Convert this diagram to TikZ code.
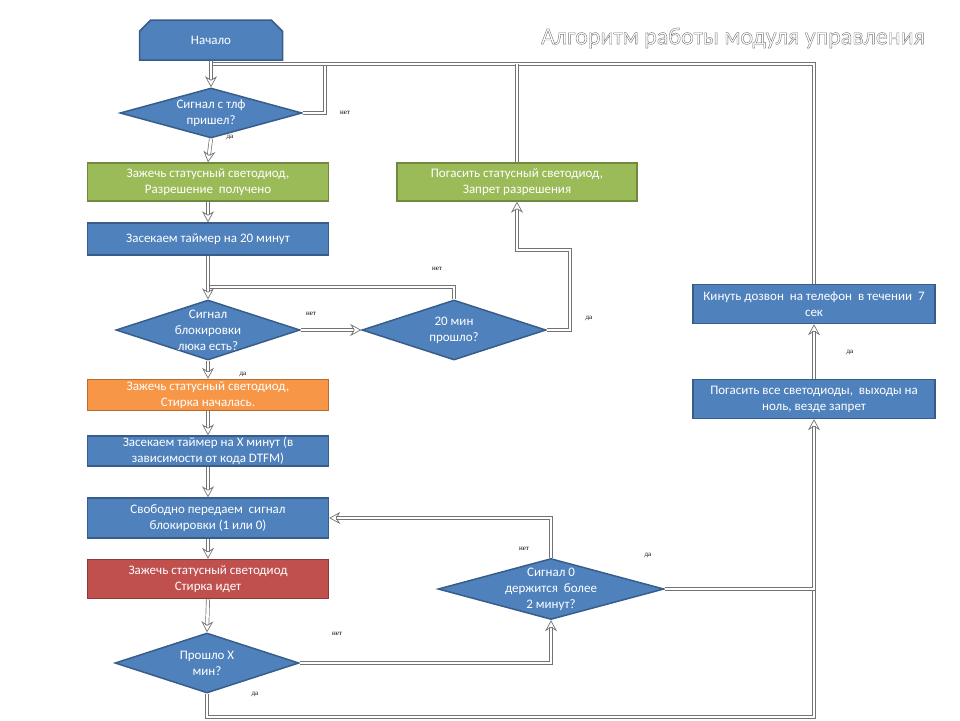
\documentclass[tikz,border=0pt]{standalone}
\usepackage{fontspec}
\setmainfont{Carlito}
\newfontfamily\lblfont{Liberation Serif}
\usetikzlibrary{shapes.geometric,shapes.misc,arrows.meta}
\definecolor{bfill}{HTML}{4F81BD}
\definecolor{bline}{HTML}{385D8A}
\definecolor{gfill}{HTML}{9BBB59}
\definecolor{gline}{HTML}{71893F}
\definecolor{ofill}{HTML}{F79646}
\definecolor{oline}{HTML}{B66D31}
\definecolor{rfill}{HTML}{C0504D}
\definecolor{rline}{HTML}{8C3836}
\begin{document}
\begin{tikzpicture}[x=1pt,y=-1pt,
  box/.style={rectangle, line width=1.5pt, text=white, font=\fontsize{13}{16}\selectfont, align=center, inner sep=0pt, minimum width=241pt},
  bluebox/.style={box, fill=bfill, draw=bline},
  greenbox/.style={box, fill=gfill, draw=gline},
  orangebox/.style={box, fill=ofill, draw=oline},
  redbox/.style={box, fill=rfill, draw=rline},
  dia/.style={diamond, fill=bfill, draw=bline, line width=1.5pt, inner sep=0pt},
  diatext/.style={text=white, font=\fontsize{13}{16}\selectfont, align=center, inner sep=0pt},
  startbox/.style={chamfered rectangle, chamfered rectangle corners={north west,north east}, chamfered rectangle xsep=7pt, chamfered rectangle ysep=7pt, fill=bfill, draw=bline, line width=1.5pt, text=white, font=\fontsize{13}{16}\selectfont, inner sep=0pt, minimum width=143pt, minimum height=40pt},
  conn/.style={draw=black!55, line width=0.7pt, double=white, double distance=2.6pt},
  arr/.style={conn, -{Stealth[open,length=11pt,width=12pt]}},
  lbl/.style={font=\lblfont\fontsize{7}{8}\selectfont, text=black, inner sep=0pt}
]
\useasboundingbox (0,0) rectangle (960,720);

% nodes
\node[startbox] (start) at (211,40) {Начало};
\node[dia, minimum width=182pt, minimum height=50pt] (d1) at (211,113) {};
\node[diatext] at (d1) {Сигнал с тлф\\пришел?};
\node[greenbox, minimum height=38pt] (g1) at (208,182) {Зажечь статусный светодиод,\\Разрешение \ получено};
\node[bluebox, minimum height=32pt] (t20) at (208,239) {Засекаем таймер на 20 минут};
\node[dia, minimum width=184pt, minimum height=60pt] (d2) at (208,330) {};
\node[diatext] at (d2) {Сигнал\\блокировки\\люка есть?};
\node[dia, minimum width=184pt, minimum height=60pt] (d3) at (454,330) {};
\node[diatext] at (d3) {20 мин\\прошло?};
\node[greenbox, minimum width=240pt, minimum height=38pt] (g2) at (517,182) {Погасить статусный светодиод,\\Запрет разрешения};
\node[orangebox, minimum height=31pt] (or) at (208,395) {Зажечь статусный светодиод,\\Стирка началась.};
\node[bluebox, minimum height=30pt] (tX) at (208,451) {Засекаем таймер на X минут (в\\зависимости от кода DTFM)};
\node[bluebox, minimum height=40pt] (free) at (208,518) {Свободно передаем \ сигнал\\блокировки (1 или 0)};
\node[redbox, minimum height=39pt] (red) at (208,579) {Зажечь статусный светодиод\\Стирка идет};
\node[dia, minimum width=184pt, minimum height=60pt] (d4) at (207,663) {};
\node[diatext] at (d4) {Прошло X\\мин?};
\node[dia, minimum width=226pt, minimum height=61pt] (d5) at (551,589) {};
\node[diatext] at (d5) {Сигнал 0\\держится \ более\\2 минут?};
\node[bluebox, minimum width=242pt, minimum height=39pt] (poff) at (814,399) {Погасить все светодиоды, \ выходы на\\ноль, везде запрет};
\node[bluebox, minimum width=242pt, minimum height=39pt] (kin) at (814,304) {Кинуть дозвон \ на телефон \ в течении \ 7\\сек};

% coordinates
\coordinate (jA) at (211,64);
\coordinate (jR) at (325,64);
\coordinate (jG) at (517,64);
\coordinate (jK) at (814,64);
\coordinate (jB) at (208,287);
\coordinate (c1) at (570,250);
\coordinate (jD) at (814,717);
\coordinate (jE) at (814,589);

% plain connectors
\draw[conn] (d1.east) -| (jR);
\draw[conn] (kin.north) -- (jK) -- (jA);
\draw[conn] (g2.north) -- (jG);
\draw[conn] (d3.north) |- (jB);
\draw[conn] (d4.south) |- (jD) -- (jE);

% arrows
\draw[arr] (start.south) -- (d1.north);
\draw[arr] (d1.south) -- (g1.north);
\draw[arr] (g1.south) -- (t20.north);
\draw[arr] (t20.south) -- (d2.north);
\draw[arr] (d2.east) -- (d3.west);
\draw[arr] (d3.east) -| (c1) -| (g2.south);
\draw[arr] (d2.south) -- (or.north);
\draw[arr] (or.south) -- (tX.north);
\draw[arr] (tX.south) -- (free.north);
\draw[arr] (free.south) -- (red.north);
\draw[arr] (red.south) -- (d4.north);
\draw[arr] (d4.east) -| (d5.south);
\draw[arr] (d5.north) |- (free.east);
\draw[arr] (d5.east) -| (poff.south);
\draw[arr] (poff.north) -- (kin.south);

% labels
\node[lbl] (l1) at (345,113) {нет};
\node[lbl] (l2) at (230,138) {да};
\node[lbl] (l3) at (437,269) {нет};
\node[lbl] (l4) at (311,314) {нет};
\node[lbl] (l5) at (589,319) {да};
\node[lbl] (l6) at (243,375) {да};
\node[lbl] (l7) at (337,634) {нет};
\node[lbl] (l8) at (524,549) {нет};
\node[lbl] (l9) at (648,556) {да};
\node[lbl] (l10) at (255,695) {да};
\node[lbl] (l11) at (850,353) {да};

% title (outlined)
\node[font=\fontsize{24}{27}\selectfont, text=black!55, inner sep=0pt] (title) at (733,38) {\special{pdf:literal direct 1 Tr 0.4 w}Алгоритм работы модуля управления\special{pdf:literal direct 0 Tr}};
\end{tikzpicture}
\end{document}
